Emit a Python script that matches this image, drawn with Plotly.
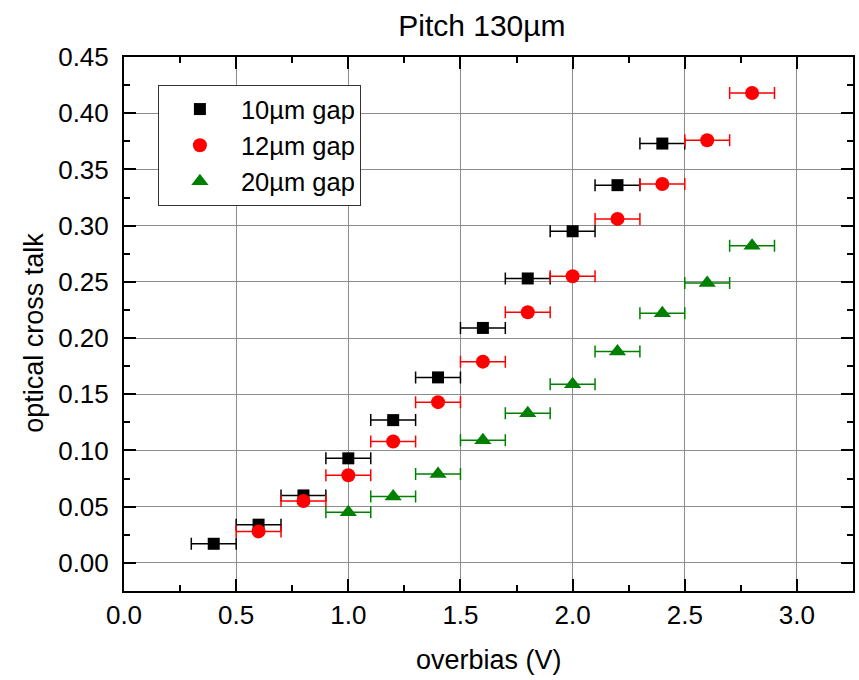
import plotly.graph_objects as go

x10 = [0.4, 0.6, 0.8, 1.0, 1.2, 1.4, 1.6, 1.8, 2.0, 2.2, 2.4]
y10 = [0.017, 0.034, 0.060, 0.093, 0.127, 0.165, 0.209, 0.253, 0.295, 0.336, 0.373]
x12 = [0.6, 0.8, 1.0, 1.2, 1.4, 1.6, 1.8, 2.0, 2.2, 2.4, 2.6, 2.8]
y12 = [0.028, 0.055, 0.078, 0.108, 0.143, 0.179, 0.223, 0.255, 0.306, 0.337, 0.376, 0.418]
x20 = [1.0, 1.2, 1.4, 1.6, 1.8, 2.0, 2.2, 2.4, 2.6, 2.8]
y20 = [0.045, 0.059, 0.079, 0.109, 0.133, 0.159, 0.188, 0.222, 0.249, 0.282]
xerr = 0.1

series = [
    ("10µm gap", x10, y10, "black", "square", 12),
    ("12µm gap", x12, y12, "#ff0000", "circle", 14),
    ("20µm gap", x20, y20, "#008000", "triangle-up", 15),
]

FONT = "Arial, Liberation Sans, sans-serif"
fig = go.Figure()
for name, xs, ys, col, sym, sz in series:
    fig.add_trace(go.Scatter(
        x=xs, y=ys, mode="markers", name=name,
        marker=dict(symbol=sym, color=col, size=sz, line=dict(width=0)),
        error_x=dict(type="constant", value=xerr, color=col, thickness=1.5, width=6),
    ))

axis_common = dict(
    showline=True, linecolor="black", linewidth=2, mirror="allticks",
    ticks="inside", ticklen=12, tickwidth=2, tickcolor="black",
    showgrid=True, gridcolor="#8c8c8c", gridwidth=1.3, zeroline=False,
    tickfont=dict(size=26, color="black", family=FONT),
)
fig.update_xaxes(
    range=[0, 3.25], dtick=0.5, tick0=0, tickformat=".1f",
    minor=dict(ticks="inside", ticklen=6, tickwidth=2, tickcolor="black", dtick=0.25, showgrid=False),
    **axis_common,
)
fig.update_yaxes(
    range=[-0.025, 0.45], dtick=0.05, tick0=0, tickformat=".2f",
    minor=dict(ticks="inside", ticklen=6, tickwidth=2, tickcolor="black", dtick=0.025, showgrid=False),
    ticklabelstandoff=8,
    **axis_common,
)
fig.add_annotation(text="overbias (V)", xref="paper", yref="paper", x=0.5, y=-0.129,
                   xanchor="center", yanchor="middle", showarrow=False,
                   font=dict(size=27, color="black", family=FONT))
fig.add_annotation(text="optical cross talk", xref="paper", yref="paper", x=-0.1245, y=0.484,
                   xanchor="center", yanchor="middle", showarrow=False, textangle=-90,
                   font=dict(size=27, color="black", family=FONT))
fig.update_layout(
    width=859, height=680,
    margin=dict(l=124, r=4, t=57, b=89),
    paper_bgcolor="white", plot_bgcolor="white",
    title=dict(text="Pitch 130µm", x=0.561, xanchor="center", y=0.963, yanchor="middle",
               font=dict(size=30, color="black", family=FONT)),
    legend=dict(x=0.0465, y=0.9476, xanchor="left", yanchor="top",
                bgcolor="white", bordercolor="#333333", borderwidth=1,
                font=dict(size=25.5, color="black", family=FONT), itemwidth=72),
    showlegend=True,
)
fig.write_html("out.html", config={"displayModeBar": False},
               post_script="document.body.style.margin='0';document.body.style.overflow='hidden';")
